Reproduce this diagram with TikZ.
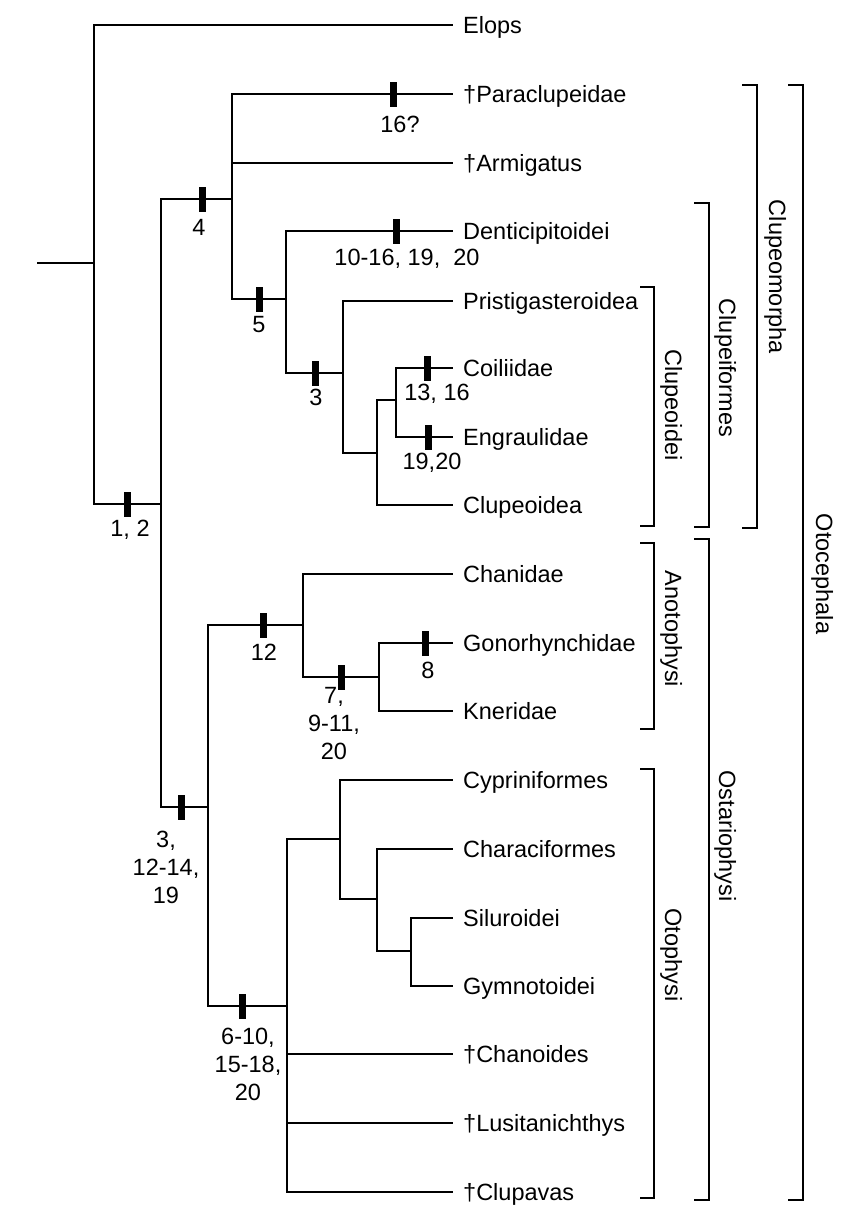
\documentclass[tikz,border=0pt]{standalone}
\usepackage{fontspec}
\setmainfont{Liberation Sans}
\newcommand{\lblfont}{\fontsize{23.5}{28}\selectfont}
\tikzset{
  edge/.style={line width=1.4pt},
  leaf/.style={anchor=base west, inner sep=0pt, font=\lblfont},
  charbar/.style={rectangle, fill=black, draw=none, minimum width=7pt, minimum height=25pt, inner sep=0pt},
  chlabel/.style={anchor=north, inner sep=0pt, align=center, font=\lblfont},
  cladebr/.style={line width=1.4pt},
  cladename/.style={anchor=base, rotate=-90, inner sep=0pt, font=\lblfont},
}
\begin{document}
\begin{tikzpicture}[x=1pt,y=-1pt]
\useasboundingbox (0,0) rectangle (850,1210);
% internal nodes
\coordinate (stem) at (37,263);
\coordinate (root) at (94,263);
\coordinate (n12) at (161,504);
\coordinate (ncm) at (232,199);
\coordinate (ncf) at (286,299);
\coordinate (ncd) at (343,373);
\coordinate (na) at (377,453);
\coordinate (nb) at (396,400);
\coordinate (nos) at (208,807);
\coordinate (nan) at (303,625);
\coordinate (ngk) at (379,677);
\coordinate (not) at (287,1006);
\coordinate (nc) at (340,839);
\coordinate (nd) at (377,899);
\coordinate (ne) at (411,951);
% leaves
\foreach \n/\y/\t in {elops/25/Elops, paraclup/94/†Paraclupeidae, armig/163/†Armigatus,
  dentic/231/Denticipitoidei, pristi/301/Pristigasteroidea, coili/368/Coiliidae,
  engra/437/Engraulidae, clupeoidea/505/Clupeoidea, chani/574/Chanidae,
  gonor/643/Gonorhynchidae, kneri/711/Kneridae, cypri/780/Cypriniformes,
  chara/849/Characiformes, silur/918/Siluroidei, gymno/986/Gymnotoidei,
  chano/1054/†Chanoides, lusit/1123/†Lusitanichthys, clupa/1192/†Clupavas}{
  \coordinate (e-\n) at (453,\y);
  \node[leaf] (t-\n) at (463,\y+8.5) {\t};
}
% edges
\draw[edge] (stem) -- (root);
\draw[edge] (root) |- (e-elops);
\draw[edge] (root) |- (n12);
\draw[edge] (n12) |- (ncm);
\draw[edge] (n12) |- (nos);
\draw[edge] (ncm) |- (e-paraclup);
\draw[edge] (ncm) |- (e-armig);
\draw[edge] (ncm) |- (ncf);
\draw[edge] (ncf) |- (e-dentic);
\draw[edge] (ncf) |- (ncd);
\draw[edge] (ncd) |- (e-pristi);
\draw[edge] (ncd) |- (na);
\draw[edge] (na) |- (nb);
\draw[edge] (na) |- (e-clupeoidea);
\draw[edge] (nb) |- (e-coili);
\draw[edge] (nb) |- (e-engra);
\draw[edge] (nos) |- (nan);
\draw[edge] (nos) |- (not);
\draw[edge] (nan) |- (e-chani);
\draw[edge] (nan) |- (ngk);
\draw[edge] (ngk) |- (e-gonor);
\draw[edge] (ngk) |- (e-kneri);
\draw[edge] (not) |- (nc);
\draw[edge] (not) |- (e-chano);
\draw[edge] (not) |- (e-lusit);
\draw[edge] (not) |- (e-clupa);
\draw[edge] (nc) |- (e-cypri);
\draw[edge] (nc) |- (nd);
\draw[edge] (nd) |- (e-chara);
\draw[edge] (nd) |- (ne);
\draw[edge] (ne) |- (e-silur);
\draw[edge] (ne) |- (e-gymno);
% character bars
\node[charbar] (b1) at (393,94) {};
\node[charbar] (b2) at (202,199) {};
\node[charbar] (b3) at (396,231) {};
\node[charbar] (b4) at (259,299) {};
\node[charbar] (b5) at (315,373) {};
\node[charbar] (b6) at (427,368) {};
\node[charbar] (b7) at (428,437) {};
\node[charbar] (b8) at (127,504) {};
\node[charbar] (b9) at (263,625) {};
\node[charbar] (b10) at (425,643) {};
\node[charbar] (b11) at (341,677) {};
\node[charbar] (b12) at (181,807) {};
\node[charbar] (b13) at (242,1006) {};
% character labels
\node[chlabel] (c1) at (400,116) {16?};
\node[chlabel] (c2) at (199,219) {4};
\node[chlabel] (c3) at (407,249) {10-16, 19,\ \ 20};
\node[chlabel] (c4) at (259,316) {5};
\node[chlabel] (c5) at (316,389) {3};
\node[chlabel] (c6) at (437,384) {13, 16};
\node[chlabel] (c7) at (432,453) {19,20};
\node[chlabel] (c8) at (130,520) {1, 2};
\node[chlabel] (c9) at (264,644) {12};
\node[chlabel] (c10) at (428,662) {8};
\node[chlabel] (c11) at (334,687) {7,\\9-11,\\20};
\node[chlabel] (c12) at (166,831) {3,\\12-14,\\19};
\node[chlabel] (c13) at (248,1028) {6-10,\\15-18,\\20};
% clade brackets
\draw[cladebr] (640,287) -- (654,287) -- (654,526) -- (640,526);
\draw[cladebr] (640,543) -- (654,543) -- (654,729) -- (640,729);
\draw[cladebr] (640,769) -- (654,769) -- (654,1198) -- (640,1198);
\draw[cladebr] (694,203) -- (709,203) -- (709,527) -- (694,527);
\draw[cladebr] (694,539) -- (709,539) -- (709,1200) -- (694,1200);
\draw[cladebr] (742,85) -- (757,85) -- (757,528) -- (742,528);
\draw[cladebr] (788,85) -- (803,85) -- (803,1200) -- (788,1200);
\node[cladename] (k1) at (665,405) {Clupeoidei};
\node[cladename] (k2) at (665,629) {Anotophysi};
\node[cladename] (k3) at (665,955) {Otophysi};
\node[cladename] (k4) at (719,368) {Clupeiformes};
\node[cladename] (k5) at (719,836) {Ostariophysi};
\node[cladename] (k6) at (769,277) {Clupeomorpha};
\node[cladename] (k7) at (816,574) {Otocephala};
\end{tikzpicture}
\end{document}
